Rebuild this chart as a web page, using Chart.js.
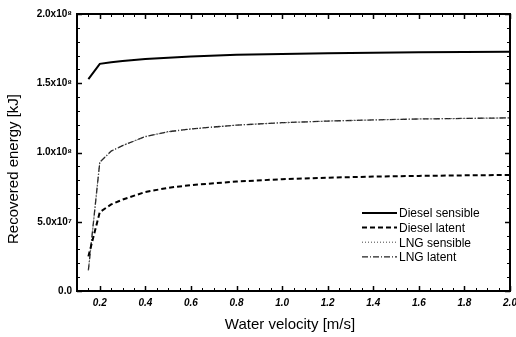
<!DOCTYPE html>
<html>
<head>
<meta charset="utf-8">
<script src="https://cdn.jsdelivr.net/npm/chart.js@4/dist/chart.umd.min.js"></script>
<style>
  html, body { margin: 0; padding: 0; background: #fff; }
  #wrap { width: 516px; height: 337px; }
</style>
</head>
<body>
<div id="wrap"><canvas id="c" width="516" height="337"></canvas></div>
<script>
// Water velocity [m/s]
const velocity = [0.15, 0.2, 0.25, 0.3, 0.4, 0.5, 0.6, 0.8, 1.0, 1.2, 1.4, 1.6, 1.8, 2.0];

// Recovered energy [kJ]
const dieselSensible = [153e6, 164e6, 165.2e6, 166e6, 167.5e6, 168.5e6, 169.3e6, 170.5e6, 171.2e6, 171.7e6, 172e6, 172.3e6, 172.5e6, 172.8e6];
const dieselLatent   = [25e6, 57e6, 62.5e6, 66e6, 71.5e6, 74.5e6, 76.5e6, 79e6, 80.7e6, 81.8e6, 82.6e6, 83.1e6, 83.5e6, 83.8e6];
const lngSensible    = [15e6, 93e6, 101e6, 105e6, 111.5e6, 115e6, 117e6, 119.8e6, 121.5e6, 122.7e6, 123.5e6, 124.2e6, 124.6e6, 125e6];
const lngLatent      = [15e6, 93e6, 101e6, 105e6, 111.5e6, 115e6, 117e6, 119.8e6, 121.5e6, 122.7e6, 123.5e6, 124.2e6, 124.6e6, 125e6];

const seriesNames = ['Diesel sensible', 'Diesel latent', 'LNG sensible', 'LNG latent'];

const xTickValues = [0.2, 0.4, 0.6, 0.8, 1.0, 1.2, 1.4, 1.6, 1.8, 2.0];
const xTickLabels = ['0.2', '0.4', '0.6', '0.8', '1.0', '1.2', '1.4', '1.6', '1.8', '2.0'];
const yTickValues = [0, 5e7, 1e8, 1.5e8, 2e8];
const yTickLabels = ['0.0', '5.0x10\u2077', '1.0x10\u2078', '1.5x10\u2078', '2.0x10\u2078'];

const xTitle = 'Water velocity [m/s]';
const yTitle = 'Recovered energy [kJ]';

const FONT = '"Liberation Sans", Arial, Helvetica, sans-serif';

function toPoints(values) {
  return velocity.map((v, i) => ({ x: v, y: values[i] }));
}

// Frame with inward ticks on all four sides, axis titles and the legend.
const decorations = {
  id: 'decorations',
  afterDatasetsDraw(chart) {
    const { ctx, chartArea: a, scales: { x, y } } = chart;
    ctx.save();
    ctx.strokeStyle = '#000';
    ctx.lineCap = 'butt';

    const seg = (x1, y1, x2, y2) => { ctx.beginPath(); ctx.moveTo(x1, y1); ctx.lineTo(x2, y2); ctx.stroke(); };

    // minor ticks
    ctx.lineWidth = 1;
    for (let k = 2; k < 40; k++) {
      const v = k * 0.05;
      const px = Math.round(x.getPixelForValue(v)) + 0.5;
      if (px <= a.left + 1 || px >= a.right - 1) continue;
      seg(px, a.bottom, px, a.bottom - 3);
      seg(px, a.top, px, a.top + 3);
    }
    for (let k = 1; k < 20; k++) {
      const v = k * 1e7;
      const py = Math.round(y.getPixelForValue(v)) + 0.5;
      seg(a.left, py, a.left + 3, py);
      seg(a.right, py, a.right - 3, py);
    }
    // major ticks
    ctx.lineWidth = 1.5;
    xTickValues.forEach(v => {
      const px = Math.round(x.getPixelForValue(v)) + 0.5;
      seg(px, a.bottom, px, a.bottom - 5);
      seg(px, a.top, px, a.top + 5);
    });
    yTickValues.forEach(v => {
      const py = Math.round(y.getPixelForValue(v)) + 0.5;
      seg(a.left, py, a.left + 5, py);
      seg(a.right, py, a.right - 5, py);
    });

    // frame
    ctx.lineWidth = 2;
    ctx.strokeRect(a.left, a.top, a.right - a.left, a.bottom - a.top);

    // axis titles
    ctx.fillStyle = '#000';
    ctx.font = '15px ' + FONT;
    ctx.textAlign = 'center';
    ctx.textBaseline = 'middle';
    ctx.fillText(xTitle, 290, 325);
    ctx.save();
    ctx.translate(14, 169);
    ctx.rotate(-Math.PI / 2);
    ctx.fillText(yTitle, 0, 0);
    ctx.restore();

    // legend
    ctx.font = '12px ' + FONT;
    ctx.textAlign = 'left';
    chart.data.datasets.forEach((ds, i) => {
      const ly = 213 + i * 14.6;
      ctx.save();
      ctx.strokeStyle = ds.borderColor;
      ctx.lineWidth = ds.borderWidth;
      ctx.setLineDash(ds.borderDash || []);
      seg(362, ly, 397, ly);
      ctx.restore();
      ctx.fillText(ds.label, 399, ly + 1);
    });
    ctx.restore();
  }
};

new Chart(document.getElementById('c'), {
  type: 'line',
  data: {
    datasets: [
      { label: seriesNames[0], data: toPoints(dieselSensible), borderColor: '#000', borderWidth: 2, borderDash: [] },
      { label: seriesNames[1], data: toPoints(dieselLatent), borderColor: '#000', borderWidth: 2, borderDash: [5, 3] },
      { label: seriesNames[2], data: toPoints(lngSensible), borderColor: '#444', borderWidth: 1, borderDash: [1, 2] },
      { label: seriesNames[3], data: toPoints(lngLatent), borderColor: '#222', borderWidth: 1.3, borderDash: [6, 2, 1, 2] }
    ]
  },
  options: {
    responsive: false,
    devicePixelRatio: 1,
    animation: false,
    layout: { padding: { top: 14, right: 6, left: 0, bottom: 0 } },
    elements: { point: { radius: 0 }, line: { tension: 0, fill: false } },
    plugins: { legend: { display: false }, tooltip: { enabled: false } },
    scales: {
      x: {
        type: 'linear',
        min: 0.1,
        max: 2.0,
        grid: { display: false, drawTicks: false },
        border: { display: false },
        afterBuildTicks: s => { s.ticks = xTickValues.map(v => ({ value: v })); },
        afterFit: s => { s.height = 46; s.paddingLeft = 0; s.paddingRight = 0; },
        ticks: {
          padding: 6,
          maxRotation: 0,
          autoSkip: false,
          color: '#000',
          font: { family: FONT, size: 10, style: 'italic', weight: 'bold' },
          callback: v => { const i = xTickValues.findIndex(t => Math.abs(t - v) < 1e-9); return i >= 0 ? xTickLabels[i] : ''; }
        }
      },
      y: {
        type: 'linear',
        min: 0,
        max: 2e8,
        grid: { display: false, drawTicks: false },
        border: { display: false },
        afterBuildTicks: s => { s.ticks = yTickValues.map(v => ({ value: v })); },
        afterFit: s => { s.width = 77; s.paddingTop = 0; s.paddingBottom = 0; },
        ticks: {
          padding: 5,
          autoSkip: false,
          color: '#000',
          font: { family: FONT, size: 10, weight: 'bold' },
          callback: v => { const i = yTickValues.indexOf(v); return i >= 0 ? yTickLabels[i] : ''; }
        }
      }
    }
  },
  plugins: [decorations]
});
</script>
</body>
</html>
